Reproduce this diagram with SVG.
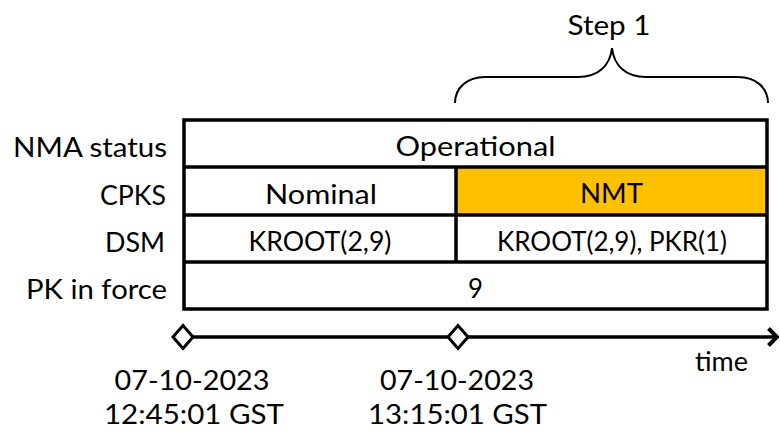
<svg xmlns="http://www.w3.org/2000/svg" width="780" height="434" viewBox="0 0 780 434">
  <defs>
    <style>
      text { font-family: Lato, "Open Sans", "Liberation Sans", sans-serif; font-size: 26px; fill: #000; }
      .mid { text-anchor: middle; }
      .end { text-anchor: end; }
      .grid { fill: none; stroke: #000; stroke-width: 3.5; }
      .axis { fill: none; stroke: #000; stroke-width: 3.5; }
      .brace { fill: none; stroke: #000; stroke-width: 2; }
      .tick { fill: #fff; stroke: #000; stroke-width: 3; stroke-linejoin: miter; }
    </style>
    <marker id="arrow" viewBox="0 0 12 20" refX="10" refY="10" markerWidth="12" markerHeight="20" markerUnits="userSpaceOnUse" orient="auto">
      <path d="M1.5,1.5 L10,10 L1.5,18.5" fill="none" stroke="#000" stroke-width="4"/>
    </marker>
  </defs>

  <!-- step bracket -->
  <g id="step1">
    <path class="brace" d="M455,103 C455,88 467,77 485,77 L578,77 C598,77 610,66 612,48 C614,66 626,77 646,77 L738,77 C756,77 768,88 768,103"/>
    <text class="mid" x="609" y="35" textLength="83" lengthAdjust="spacingAndGlyphs">Step 1</text>
  </g>

  <!-- row labels -->
  <g id="labels">
    <text class="end" x="167" y="157" textLength="154" lengthAdjust="spacingAndGlyphs">NMA status</text>
    <text class="end" x="166" y="205" textLength="66" lengthAdjust="spacingAndGlyphs">CPKS</text>
    <text class="end" x="165" y="252" textLength="60" lengthAdjust="spacingAndGlyphs">DSM</text>
    <text class="end" x="167" y="299" textLength="141" lengthAdjust="spacingAndGlyphs">PK in force</text>
  </g>

  <!-- state table -->
  <g id="table">
    <rect x="456" y="167" width="311" height="48" fill="#FFC000"/>
    <rect class="grid" x="184" y="120" width="583" height="189"/>
    <line class="grid" x1="184" y1="167" x2="767" y2="167"/>
    <line class="grid" x1="184" y1="215" x2="767" y2="215"/>
    <line class="grid" x1="184" y1="262" x2="767" y2="262"/>
    <line class="grid" x1="456" y1="167" x2="456" y2="262"/>
  </g>
  <g id="cell-operational"><text class="mid" x="475.5" y="156" textLength="160" lengthAdjust="spacingAndGlyphs">Operational</text></g>
  <g id="cell-nominal"><text class="mid" x="321" y="204" textLength="112" lengthAdjust="spacingAndGlyphs">Nominal</text></g>
  <g id="cell-nmt"><text class="mid" x="611.5" y="203" textLength="63" lengthAdjust="spacingAndGlyphs">NMT</text></g>
  <g id="cell-kroot"><text class="mid" x="320" y="251" textLength="143" lengthAdjust="spacingAndGlyphs">KROOT(2,9)</text></g>
  <g id="cell-kroot-pkr"><text class="mid" x="612" y="251" textLength="230" lengthAdjust="spacingAndGlyphs">KROOT(2,9), PKR(1)</text></g>
  <g id="cell-pk"><text class="mid" x="475.5" y="298" textLength="15" lengthAdjust="spacingAndGlyphs">9</text></g>

  <!-- time axis -->
  <g id="connectors">
    <line class="axis" x1="183" y1="337" x2="777" y2="337" marker-end="url(#arrow)"/>
  </g>
  <g id="t0">
    <path class="tick" d="M183,325.5 L193,337 L183,348.5 L173,337 Z"/>
    <text class="mid" x="192" y="390" textLength="155" lengthAdjust="spacingAndGlyphs">07-10-2023</text>
    <text class="mid" x="194" y="424" textLength="180" lengthAdjust="spacingAndGlyphs">12:45:01 GST</text>
  </g>
  <g id="t1">
    <path class="tick" d="M458,325.5 L468,337 L458,348.5 L448,337 Z"/>
    <text class="mid" x="457" y="390" textLength="154" lengthAdjust="spacingAndGlyphs">07-10-2023</text>
    <text class="mid" x="457.5" y="424" textLength="179" lengthAdjust="spacingAndGlyphs">13:15:01 GST</text>
  </g>
  <g id="time-label">
    <text class="mid" x="721.5" y="371" textLength="53" lengthAdjust="spacingAndGlyphs">time</text>
  </g>
</svg>
